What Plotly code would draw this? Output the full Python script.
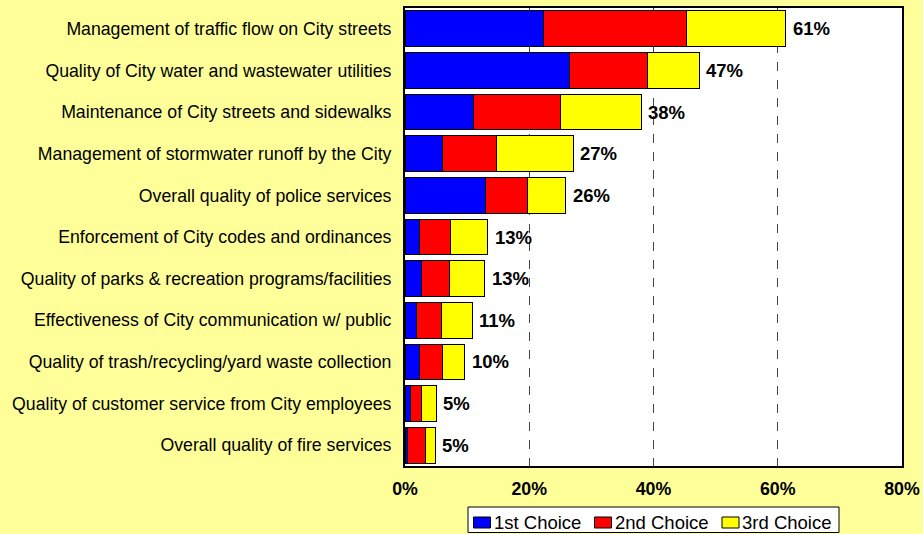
import plotly.graph_objects as go

# Service areas, top to bottom
categories = [
    "Management of traffic flow on City streets",
    "Quality of City water and wastewater utilities",
    "Maintenance of City streets and sidewalks",
    "Management of stormwater runoff by the City",
    "Overall quality of police services",
    "Enforcement of City codes and ordinances",
    "Quality of parks & recreation programs/facilities",
    "Effectiveness of City communication w/ public",
    "Quality of trash/recycling/yard waste collection",
    "Quality of customer service from City employees",
    "Overall quality of fire services",
]

# Percent of respondents selecting each item
first_choice = [22.3, 26.5, 11.0, 6.0, 12.9, 2.4, 2.7, 1.8, 2.4, 0.9, 0.4]
second_choice = [23.0, 12.5, 14.0, 8.8, 6.8, 5.0, 4.4, 4.1, 3.7, 1.7, 2.9]
third_choice = [16.0, 8.4, 13.0, 12.3, 6.2, 5.9, 5.7, 4.9, 3.5, 2.4, 1.6]

tick_vals = [0, 20, 40, 60, 80]
tick_text = ["0%", "20%", "40%", "60%", "80%"]

series_names = ["1st Choice", "2nd Choice", "3rd Choice"]
series_colors = ["#0000FF", "#FF0000", "#FFFF00"]
series_values = [first_choice, second_choice, third_choice]

FONT = "Liberation Sans, Arial, sans-serif"
W, H = 923, 534
M_L, M_R, M_T, M_B = 405, 21, 8, 68
PLOT_W = W - M_L - M_R
PLOT_H = H - M_T - M_B


def px_x(px):
    """Pixel column -> paper x."""
    return (px - M_L) / PLOT_W


def px_y(py):
    """Pixel row -> paper y."""
    return (H - M_B - py) / PLOT_H


fig = go.Figure()
for name, vals, color in zip(series_names, series_values, series_colors):
    fig.add_trace(go.Bar(
        y=categories, x=vals, name=name, orientation="h",
        marker=dict(color=color, line=dict(color="#000000", width=1)),
        hoverinfo="skip", showlegend=False,
    ))

# Total share labels at the end of each stacked bar
totals = [a + b + c for a, b, c in zip(first_choice, second_choice, third_choice)]
for cat, tot in zip(categories, totals):
    fig.add_annotation(
        x=tot, y=cat, xref="x", yref="y", text=f"<b>{round(tot):d}%</b>",
        showarrow=False, xanchor="left", xshift=5,
        font=dict(family=FONT, size=18.5, color="#000000"),
    )

# Legend box below the axis
shapes = [dict(
    type="rect", xref="paper", yref="paper",
    x0=px_x(468), x1=px_x(839), y0=px_y(532.5), y1=px_y(507),
    fillcolor="#FFFFFF", line=dict(color="#000000", width=1), layer="above",
)]
swatch_x = [473.5, 594.5, 722]
for sx, name, color in zip(swatch_x, series_names, series_colors):
    shapes.append(dict(
        type="rect", xref="paper", yref="paper",
        x0=px_x(sx), x1=px_x(sx + 17), y0=px_y(528), y1=px_y(517),
        fillcolor=color, line=dict(color="#000000", width=1), layer="above",
    ))
    fig.add_annotation(
        x=px_x(sx + 19), y=px_y(522.5), xref="paper", yref="paper",
        text=name, showarrow=False, xanchor="left", yanchor="middle",
        xshift=-1,
        font=dict(family=FONT, size=18.5, color="#000000"),
    )

fig.update_layout(
    barmode="stack",
    bargap=0.14,
    width=W, height=H,
    margin=dict(l=M_L, r=M_R, t=M_T, b=M_B, autoexpand=False),
    paper_bgcolor="#FFFF99",
    plot_bgcolor="#FFFFFF",
    font=dict(family=FONT, color="#000000"),
    showlegend=False,
    shapes=shapes,
    xaxis=dict(
        range=[0, 80], tickvals=tick_vals, ticktext=tick_text,
        tickfont=dict(size=17.8, weight="bold"),
        showgrid=True, gridcolor="#444444", gridwidth=1, griddash="dash",
        zeroline=False, showline=True, linecolor="#000000", linewidth=2, mirror=True,
        ticks="", ticklabelstandoff=6, fixedrange=True, automargin=False,
    ),
    yaxis=dict(
        autorange="reversed", tickfont=dict(size=17.7),
        showline=True, linecolor="#000000", linewidth=2, mirror=True,
        ticks="", ticklabelstandoff=8, fixedrange=True, automargin=False,
    ),
)

fig.write_html("out.html")
